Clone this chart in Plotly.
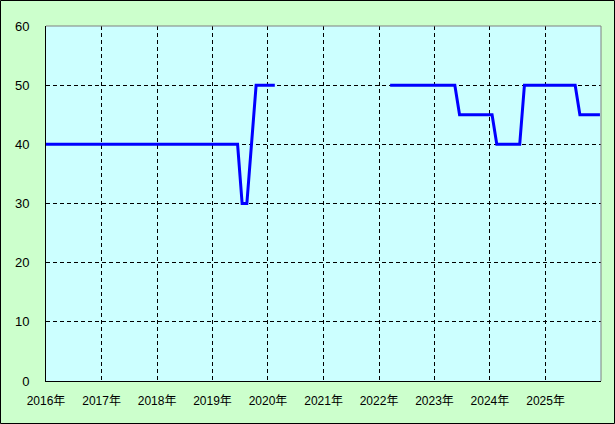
import plotly.graph_objects as go

# Data: change points of the series (None = gap)
dates = [
    "2016-01-01", "2019-06-15", "2019-07-15", "2019-08-15", "2019-10-15", "2020-02-15",
    "2020-03-15",
    "2022-03-15", "2023-05-15", "2023-06-15", "2024-01-15", "2024-02-15",
    "2024-07-15", "2024-08-15", "2025-07-15", "2025-08-15", "2025-12-25",
]
values = [
    40, 40, 30, 30, 50, 50,
    None,
    50, 50, 45, 45, 40,
    40, 50, 50, 45, 45,
]

years = list(range(2016, 2026))
tick_vals = [f"{y}-01-01" for y in years]
tick_text = [f"{y}年" for y in years]
y_ticks = [0, 10, 20, 30, 40, 50, 60]

W, H = 615, 424
ML, MR, MT, MB = 46, 14, 26, 43
PW, PH = W - ML - MR, H - MT - MB

font_family = "Liberation Sans, Noto Sans CJK JP, sans-serif"

fig = go.Figure()
fig.add_trace(go.Scatter(
    x=dates, y=values, mode="lines",
    line=dict(color="#0000FF", width=3),
    connectgaps=False, hoverinfo="skip",
))


def px_x(p):
    return (p - ML) / PW


def px_y(p):
    return (H - MB - p) / PH


shapes = [
    # top and right borders of plot area (gray)
    dict(type="line", xref="paper", yref="paper", x0=0, x1=1, y0=1, y1=1,
         line=dict(color="#808080", width=1)),
    dict(type="line", xref="paper", yref="paper", x0=1, x1=1, y0=0, y1=1,
         line=dict(color="#808080", width=1)),
    # outer border of whole chart
    dict(type="rect", xref="paper", yref="paper",
         x0=px_x(0.5), x1=px_x(W - 0.5), y0=px_y(H - 0.5), y1=px_y(0.5),
         line=dict(color="black", width=1), layer="below"),
]

fig.update_layout(
    width=W, height=H,
    margin=dict(l=ML, r=MR, t=MT, b=MB, pad=0),
    paper_bgcolor="#CCFFCC",
    plot_bgcolor="#CCFFFF",
    showlegend=False,
    font=dict(family=font_family, color="black", size=12),
    shapes=shapes,
    xaxis=dict(
        type="date",
        range=["2016-01-01", "2026-01-01"],
        tickmode="array", tickvals=tick_vals, ticktext=tick_text,
        showgrid=True, gridcolor="black", gridwidth=1, griddash="4px,3px",
        showline=True, linecolor="black", linewidth=1,
        zeroline=False, ticks="", ticklabelstandoff=9,
        tickfont=dict(size=12, family=font_family),
        fixedrange=True,
    ),
    yaxis=dict(
        range=[0, 60],
        tickmode="array", tickvals=y_ticks,
        showgrid=True, gridcolor="black", gridwidth=1, griddash="4px,3px",
        showline=True, linecolor="black", linewidth=1,
        zeroline=False, ticks="", ticklabelstandoff=13,
        tickfont=dict(size=13, family=font_family),
        fixedrange=True,
    ),
)

fig.write_html(
    "out.html",
    config={"displayModeBar": False, "staticPlot": True},
    post_script="document.body.style.margin='0';document.body.style.padding='0';",
)
